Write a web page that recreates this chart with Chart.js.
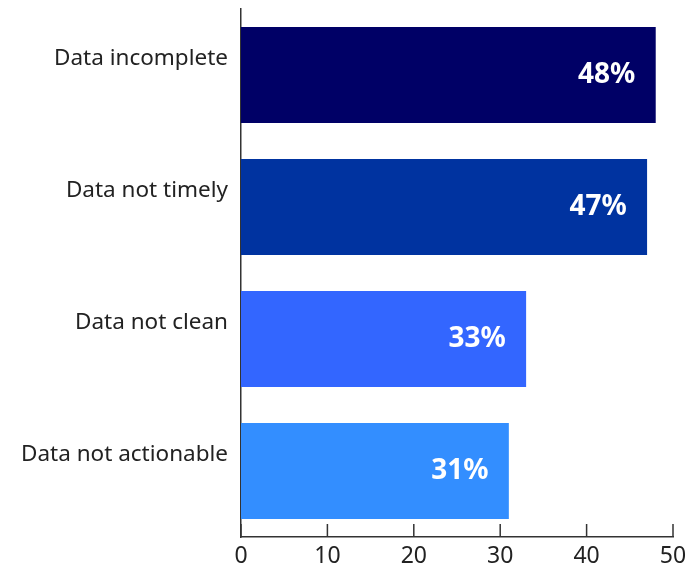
<!DOCTYPE html>
<html>
<head>
<meta charset="utf-8">
<script src="https://cdn.jsdelivr.net/npm/chart.js@4/dist/chart.umd.min.js"></script>
<style>
  html, body { margin: 0; padding: 0; background: #fff; }
  #wrap { width: 697px; height: 570px; position: relative; }
</style>
</head>
<body>
<div id="wrap"><canvas id="grafico"></canvas></div>
<script>
const categorias = ['Data incomplete', 'Data not timely', 'Data not clean', 'Data not actionable'];
const valores = [48, 47, 33, 31];
const cores = ['#000066', '#0033a0', '#3366ff', '#338eff'];
const ticksX = [0, 10, 20, 30, 40, 50];

const fonte = '"Noto Sans", sans-serif';

// rotulos brancos dentro das barras + marcas do eixo x viradas para cima
const extras = {
  id: 'extras',
  afterDatasetsDraw(chart) {
    const ctx = chart.ctx;
    const meta = chart.getDatasetMeta(0);
    ctx.save();
    ctx.fillStyle = '#ffffff';
    ctx.font = 'bold 28px ' + fonte;
    ctx.textAlign = 'center';
    ctx.textBaseline = 'middle';
    meta.data.forEach((bar, i) => {
      ctx.fillText(valores[i] + '%', bar.x - 49, bar.y);
    });
    ctx.restore();
  },
  afterDraw(chart) {
    const ctx = chart.ctx;
    const x = chart.scales.x;
    const base = chart.chartArea.bottom;
    ctx.save();
    ctx.strokeStyle = '#333333';
    ctx.lineWidth = 1.5;
    ticksX.forEach(v => {
      const px = x.getPixelForValue(v);
      ctx.beginPath();
      ctx.moveTo(px, base);
      ctx.lineTo(px, base - 13);
      ctx.stroke();
    });
    ctx.restore();
  }
};

const ctx = document.getElementById('grafico').getContext('2d');

const myChart = new Chart(ctx, {
  type: 'bar',
  data: {
    labels: categorias,
    datasets: [{
      data: valores,
      backgroundColor: cores,
      borderWidth: 0,
      categoryPercentage: 1,
      barPercentage: 0.727
    }]
  },
  options: {
    indexAxis: 'y',
    responsive: true,
    maintainAspectRatio: false,
    animation: false,
    layout: { padding: { left: 0, right: 24, top: 9, bottom: 0 } },
    plugins: {
      legend: { display: false },
      tooltip: { enabled: false }
    },
    scales: {
      x: {
        min: 0,
        max: 50,
        afterBuildTicks: (s) => { s.ticks = ticksX.map(v => ({ value: v })); },
        afterFit: (s) => { s.height = 33; s.paddingLeft = 0; s.paddingRight = 0; },
        grid: { display: false, drawTicks: false },
        border: { display: true, color: '#333333', width: 1.5 },
        ticks: {
          padding: 6,
          color: '#222222',
          font: { family: fonte, size: 23 }
        }
      },
      y: {
        afterFit: (s) => { s.width = 241; s.paddingTop = 0; s.paddingBottom = 0; },
        grid: { display: false, drawTicks: false },
        border: { display: true, color: '#333333', width: 1.5 },
        ticks: {
          padding: 13,
          labelOffset: -16,
          color: '#222222',
          font: { family: fonte, size: 22.5 }
        }
      }
    }
  },
  plugins: [extras]
});
</script>
</body>
</html>
